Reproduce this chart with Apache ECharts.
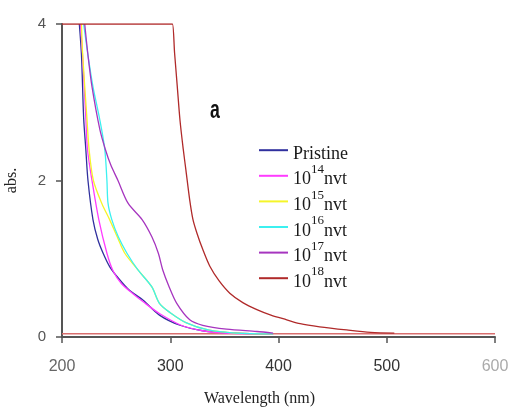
<!DOCTYPE html>
<html><head><meta charset="utf-8">
<script src="https://cdn.jsdelivr.net/npm/echarts@6/dist/echarts.min.js"></script>
<style>html,body{margin:0;padding:0;background:#fff}#c{width:509px;height:407px}</style>
</head><body><div id="c"></div>
<script>
const seriesNames = ['Pristine', '10^14nvt', '10^15nvt', '10^16nvt', '10^17nvt', '10^18nvt'];
const xTicks = [200, 300, 400, 500, 600];
const yTicks = [0, 2, 4];

const pristineX = [216, 218, 220, 222, 224, 228.6, 233, 238, 244, 251, 262, 275, 290, 309, 330, 360, 395];
const pristineY = [4.0, 3.6, 2.8, 2.4, 2.0, 1.5, 1.25, 1.07, 0.9, 0.77, 0.6, 0.47, 0.28, 0.15, 0.08, 0.05, 0.04];

const e14X = [217, 219, 222, 223.5, 227.7, 234, 241.5, 247, 255, 265, 275, 290, 310, 330, 350, 395];
const e14Y = [4.0, 3.6, 2.8, 2.4, 2.0, 1.5, 1.07, 0.85, 0.68, 0.56, 0.45, 0.3, 0.15, 0.08, 0.05, 0.04];

const e15X = [218, 219, 223, 225, 229, 237, 244, 251, 258, 270, 283, 290, 300, 315, 335, 360, 395];
const e15Y = [4.0, 3.63, 2.8, 2.4, 2.0, 1.7, 1.5, 1.28, 1.07, 0.86, 0.64, 0.43, 0.31, 0.18, 0.09, 0.05, 0.04];

const e16X = [220, 224, 228.6, 235, 239.5, 241.5, 242.5, 246, 252, 260, 270, 283, 290, 300, 315, 335, 360, 395];
const e16Y = [4.0, 3.6, 3.2, 2.77, 2.4, 2.0, 1.71, 1.5, 1.28, 1.07, 0.86, 0.64, 0.43, 0.31, 0.18, 0.09, 0.05, 0.04];

const e17X = [221, 224, 227.7, 235, 240, 245, 251.7, 261, 274, 283, 289, 293, 299, 306, 318, 330, 352, 380, 395];
const e17Y = [4.0, 3.6, 3.2, 2.65, 2.4, 2.2, 2.0, 1.71, 1.5, 1.28, 1.07, 0.86, 0.64, 0.43, 0.22, 0.15, 0.1, 0.07, 0.05];

const e18X = [200, 300, 302, 304, 306.5, 309, 312, 314.5, 318, 321, 324.6, 330, 336.7, 345, 355, 367, 380, 393, 407.6, 420, 438, 463, 485, 507];
const e18Y = [4.0, 4.0, 4.0, 3.63, 3.2, 2.77, 2.4, 2.13, 1.75, 1.5, 1.33, 1.12, 0.9, 0.72, 0.56, 0.44, 0.35, 0.28, 0.22, 0.17, 0.13, 0.09, 0.06, 0.05];

const baselineX = [200, 600];
const baselineY = [0.04, 0.04];

const colors = ['#30309e', '#ff3cff', '#f5f52a', '#3cf0f0', '#a635bf', '#b02a2a'];

function pairs(xs, ys) { return xs.map((x, i) => [x, ys[i]]); }
const xs = [pristineX, e14X, e15X, e16X, e17X, e18X];
const ys = [pristineY, e14Y, e15Y, e16Y, e17Y, e18Y];

const series = seriesNames.map((n, i) => ({
  name: n, type: 'line', data: pairs(xs[i], ys[i]), showSymbol: false, symbol: 'none',
  smooth: 0.3, z: 3 + i,
  lineStyle: { color: colors[i], width: 1.3 }, itemStyle: { color: colors[i] }
}));
series.push({
  name: 'baseline', type: 'line', data: pairs(baselineX, baselineY), symbol: 'none', silent: true, z: 2,
  lineStyle: { color: '#d96e6e', width: 1.5 }
});

const chart = echarts.init(document.getElementById('c'));
chart.setOption({
  animation: false,
  backgroundColor: '#fff',
  grid: { left: 62, right: 14, top: 24, bottom: 70, containLabel: false, outerBoundsMode: 'none' },
  xAxis: {
    type: 'value', min: 200, max: 600, interval: 100,
    name: 'Wavelength (nm)', nameLocation: 'middle', nameGap: 54,
    nameTextStyle: { fontFamily: 'Liberation Serif', fontSize: 16, color: '#222', padding: [0, 38, 0, 0] },
    axisLine: { lineStyle: { color: '#555', width: 2 } },
    axisTick: { show: true, length: 6, lineStyle: { color: '#555', width: 1.5 } },
    splitLine: { show: false },
    axisLabel: {
      margin: 22,
      formatter: v => (v === 600 ? '{l|' + v + '}' : v === 200 ? '{m|' + v + '}' : '{d|' + v + '}'),
      rich: { l: { color: '#aaa', fontSize: 16, fontFamily: 'Liberation Sans' },
              m: { color: '#666', fontSize: 16, fontFamily: 'Liberation Sans' },
              d: { color: '#333', fontSize: 16, fontFamily: 'Liberation Sans' } }
    }
  },
  yAxis: {
    type: 'value', min: 0, max: 4, interval: 2,
    name: 'abs.', nameLocation: 'middle', nameGap: 42, nameRotate: 90,
    nameTextStyle: { fontFamily: 'Liberation Serif', fontSize: 16, color: '#222' },
    axisLine: { show: true, lineStyle: { color: '#555', width: 2 } },
    axisTick: { show: true, length: 6, lineStyle: { color: '#555', width: 1.5 } },
    splitLine: { show: false },
    axisLabel: { margin: 16, fontFamily: 'Liberation Sans', fontSize: 15, color: '#555' }
  },
  legend: {
    orient: 'vertical', left: 259, top: 145, itemGap: 0, padding: 0,
    itemWidth: 29, itemHeight: 2, icon: 'rect',
    data: seriesNames,
    formatter: n => {
      if (n === 'Pristine') return '{b|Pristine}';
      const m = n.match(/^10\^(\d+)nvt$/);
      return '{b|10}{s|' + m[1] + '}{b|nvt}';
    },
    textStyle: {
      rich: {
        b: { fontFamily: 'Liberation Serif', fontSize: 18, color: '#1a1a1a', lineHeight: 25.6, verticalAlign: 'bottom' },
        s: { fontFamily: 'Liberation Serif', fontSize: 13, color: '#1a1a1a', lineHeight: 11.6, verticalAlign: 'top' }
      }
    }
  },
  graphic: [{
    type: 'text', x: 210, y: 98, scaleX: 0.68,
    style: { text: 'a', font: 'bold 26px "Liberation Sans"', fill: '#111' }
  }],
  series: series
});
</script></body></html>
